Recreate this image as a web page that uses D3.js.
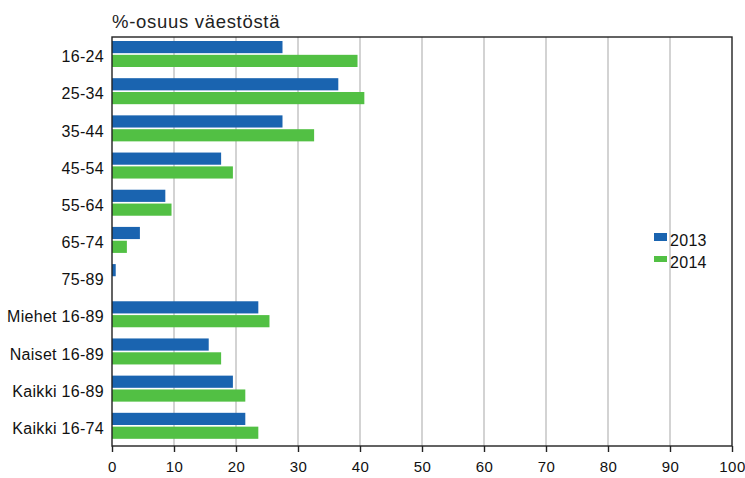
<!DOCTYPE html>
<html>
<head>
<meta charset="utf-8">
<script src="https://cdn.jsdelivr.net/npm/d3@7"></script>
<style>
  body { margin: 0; background: #fff; }
  svg { display: block; }
</style>
</head>
<body>
<svg id="chart"></svg>
<script>
// data
const categories = ['16-24', '25-34', '35-44', '45-54', '55-64', '65-74', '75-89',
  'Miehet 16-89', 'Naiset 16-89', 'Kaikki 16-89', 'Kaikki 16-74'];
const years = ['2013', '2014'];
const values2013 = [27.5, 36.5, 27.5, 17.6, 8.6, 4.5, 0.6, 23.6, 15.6, 19.5, 21.5];
const values2014 = [39.6, 40.7, 32.6, 19.5, 9.6, 2.4, 0, 25.4, 17.6, 21.5, 23.6];
const xTicks = [0, 10, 20, 30, 40, 50, 60, 70, 80, 90, 100];
const title = '%-osuus väestöstä';

// drawing constants
const W = 745, H = 478;
const LEFT = 112, RIGHT = 732, TOP = 37, BOTTOM = 446;
const COLORS = { '2013': '#1a64b0', '2014': '#52c044' };
const FONT = '"Liberation Sans", Arial, sans-serif';

const svg = d3.select('#chart')
  .attr('width', W)
  .attr('height', H)
  .attr('font-family', FONT);

const x = d3.scaleLinear().domain([0, 100]).range([LEFT, RIGHT]);
const y = d3.scaleBand().domain(categories).range([TOP, BOTTOM]);
// bars sit a bit high inside each band, like the original
const yInner = d3.scaleBand().domain(years).range([4, 30]).paddingInner(0.12);

// gridlines
svg.append('g')
  .selectAll('line')
  .data(xTicks.filter(t => t > 0 && t < 100))
  .join('line')
  .attr('x1', d => x(d)).attr('x2', d => x(d))
  .attr('y1', TOP).attr('y2', BOTTOM)
  .attr('stroke', '#c8c8c8')
  .attr('stroke-width', 1.6);

// bars
const rows = categories.map((c, i) => ({ cat: c, '2013': values2013[i], '2014': values2014[i] }));
const groups = svg.append('g')
  .selectAll('g')
  .data(rows)
  .join('g')
  .attr('transform', d => `translate(0,${y(d.cat)})`);

groups.selectAll('rect')
  .data(d => years.map(yr => ({ yr, v: d[yr] })).filter(e => e.v > 0))
  .join('rect')
  .attr('x', x(0))
  .attr('y', d => yInner(d.yr))
  .attr('width', d => x(d.v) - x(0))
  .attr('height', yInner.bandwidth())
  .attr('fill', d => COLORS[d.yr]);

// frame
svg.append('rect')
  .attr('x', LEFT).attr('y', TOP)
  .attr('width', RIGHT - LEFT).attr('height', BOTTOM - TOP)
  .attr('fill', 'none')
  .attr('stroke', '#222')
  .attr('stroke-width', 1.4);

// x axis
const xAxis = svg.append('g')
  .attr('transform', `translate(0,${BOTTOM})`)
  .call(d3.axisBottom(x).tickValues(xTicks).tickSize(6).tickPadding(9));
xAxis.select('.domain').remove();
xAxis.selectAll('line').attr('stroke', '#222').attr('stroke-width', 1.4);
xAxis.selectAll('text')
  .attr('font-family', FONT)
  .attr('font-size', 15)
  .attr('letter-spacing', 0.5)
  .attr('fill', '#111');

// category labels
svg.append('g')
  .selectAll('text')
  .data(categories)
  .join('text')
  .attr('x', 104)
  .attr('y', d => y(d) + y.bandwidth() / 2 + 1)
  .attr('dy', '0.35em')
  .attr('text-anchor', 'end')
  .attr('font-size', 16)
  .attr('letter-spacing', 0.3)
  .attr('fill', '#111')
  .text(d => d);

// title
svg.append('text')
  .attr('x', LEFT)
  .attr('y', 28)
  .attr('font-size', 18.5)
  .attr('letter-spacing', 0.7)
  .attr('fill', '#222')
  .text(title);

// legend
const legend = svg.append('g')
  .selectAll('g')
  .data(years)
  .join('g')
  .attr('transform', (d, i) => `translate(654,${233 + i * 23})`);
legend.append('rect')
  .attr('width', 13)
  .attr('height', (d, i) => i === 0 ? 8 : 6)
  .attr('fill', d => COLORS[d]);
legend.append('text')
  .attr('x', 16)
  .attr('y', (d, i) => i === 0 ? 13 : 12)
  .attr('font-size', 16)
  .attr('letter-spacing', 0.3)
  .attr('fill', '#111')
  .text(d => d);
</script>
</body>
</html>
